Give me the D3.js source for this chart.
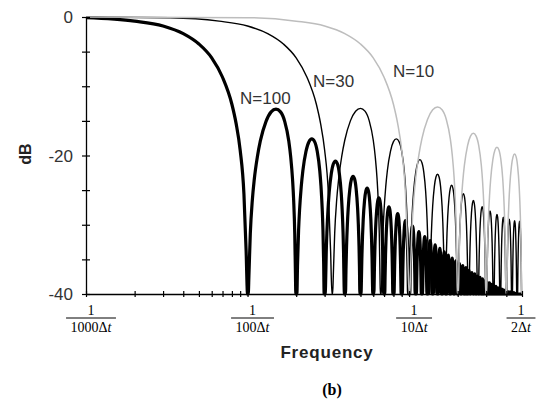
<!DOCTYPE html>
<html>
<head>
<meta charset="utf-8">
<script src="https://cdnjs.cloudflare.com/ajax/libs/d3/7.8.5/d3.min.js"></script>
<style>
body { margin: 0; background: #fff; }
svg { display: block; }
</style>
</head>
<body>
<script>
// frequency in units of 1/Δt, level in dB

// main lobes (pass band) down to the first null
var mainFreq100 = [0.001, 0.002, 0.003, 0.004, 0.005, 0.006, 0.007, 0.008, 0.0085, 0.009, 0.0095, 0.0098, 0.01];
var mainDb100   = [-0.1, -0.6, -1.3, -2.4, -3.9, -5.9, -8.7, -12.6, -15.4, -19.2, -25.6, -33.8, -40];

var mainFreq30 = [0.001, 0.00333, 0.00667, 0.01, 0.01333, 0.01667, 0.02, 0.02333, 0.02667, 0.02833, 0.03, 0.03167, 0.03267, 0.0333];
var mainDb30   = [0, -0.1, -0.6, -1.3, -2.4, -3.9, -5.9, -8.7, -12.6, -15.4, -19.2, -25.6, -33.8, -40];

var mainFreq10 = [0.001, 0.01, 0.02, 0.03, 0.04, 0.05, 0.06, 0.07, 0.08, 0.085, 0.09, 0.095, 0.098, 0.1];
var mainDb10   = [0, -0.1, -0.6, -1.3, -2.4, -3.9, -5.9, -8.7, -12.6, -15.4, -19.2, -25.6, -33.8, -40];

// nulls (curve drops below -40) and the top of each side lobe between them
var nulls100 = [0.01, 0.02, 0.03, 0.04, 0.05, 0.06, 0.07, 0.08, 0.09, 0.10,
                0.11, 0.12, 0.13, 0.14, 0.15, 0.16, 0.17, 0.18, 0.19, 0.20,
                0.21, 0.22, 0.23, 0.24, 0.25, 0.26, 0.27, 0.28, 0.29, 0.30,
                0.31, 0.32, 0.33, 0.34, 0.35, 0.36, 0.37, 0.38, 0.39, 0.40,
                0.41, 0.42, 0.43, 0.44, 0.45, 0.46, 0.47, 0.48, 0.49, 0.50];
var peaks100 = [-13.3, -17.6, -20.8, -23.0, -24.7, -26.1, -27.4, -28.4, -29.4, -30.2,
                -31.0, -31.7, -32.3, -32.9, -33.4, -33.9, -34.4, -34.8, -35.2, -35.6,
                -35.9, -36.2, -36.6, -36.9, -37.1, -37.4, -37.6, -37.8, -38.1, -38.3,
                -38.4, -38.6, -38.8, -38.9, -39.1, -39.2, -39.3, -39.4, -39.5, -39.6,
                -39.7, -39.7, -39.8, -39.8, -39.9, -39.9, -40, -40, -40];

var nulls30 = [0.0333, 0.0667, 0.1, 0.1333, 0.1667, 0.2, 0.2333, 0.2667, 0.3, 0.3333, 0.3667, 0.4, 0.4333, 0.4667, 0.5];
var peaks30 = [-13.2, -17.6, -20.6, -22.7, -24.3, -25.5, -26.5, -27.4, -28.0, -28.5, -28.9, -29.2, -29.4, -29.5];

var nulls10 = [0.1, 0.2, 0.3, 0.4, 0.5];
var peaks10 = [-13.0, -16.8, -18.8, -19.8];

// shape of one side lobe: dB below its top, across the lobe from null to null
var lobeT   = [0.01, 0.02, 0.04, 0.07, 0.1, 0.15, 0.2, 0.3, 0.4, 0.5, 0.6, 0.7, 0.8, 0.85, 0.9, 0.93, 0.96, 0.98, 0.99];
var lobeRel = [-30, -24, -18, -13.2, -10.2, -6.9, -4.6, -1.8, -0.4, 0, -0.4, -1.8, -4.6, -6.9, -10.2, -13.2, -18, -24, -30];

var curveNames = ["N=100", "N=30", "N=10"];
var tickDenoms = ["1000", "100", "10", "2"];
var tickFreqs = [0.001, 0.01, 0.1, 0.5];
var dbLabels = [0, -20, -40];

var width = 538, height = 405;

var x = d3.scaleLog().domain([0.001, 0.5]).range([86, 522]);
var y = d3.scaleLinear().domain([-40, 0]).range([294, 17]);

var svg = d3.select("body").append("svg")
    .attr("width", width)
    .attr("height", height);

function buildCurve(mainF, mainDb, nulls, peaks) {
    var pts = mainF.map(function(f, i) { return [f, mainDb[i]]; });
    for (var i = 0; i < peaks.length; i++) {
        var a = nulls[i], b = nulls[i + 1];
        lobeT.forEach(function(t, j) {
            pts.push([a + (b - a) * t, Math.max(-40, peaks[i] + lobeRel[j])]);
        });
        pts.push([b, -40]);
    }
    return pts;
}

var curves = [
    { pts: buildCurve(mainFreq100, mainDb100, nulls100, peaks100), color: "#000", w: 3.2 },
    { pts: buildCurve(mainFreq30, mainDb30, nulls30, peaks30), color: "#000", w: 1.4 },
    { pts: buildCurve(mainFreq10, mainDb10, nulls10, peaks10), color: "#bdbdbd", w: 1.5 }
];

var line = d3.line()
    .x(function(d) { return x(d[0]); })
    .y(function(d) { return y(d[1]); })
    .curve(d3.curveMonotoneX);

svg.selectAll("path.curve")
    .data(curves)
    .enter()
    .append("path")
    .attr("class", "curve")
    .attr("fill", "none")
    .attr("stroke", function(d) { return d.color; })
    .attr("stroke-width", function(d) { return d.w; })
    .attr("stroke-linejoin", "round")
    .attr("d", function(d) { return line(d.pts); });

// axes, ticks cross the axis line
var xAxis = svg.append("g")
    .attr("transform", "translate(0," + y(-40) + ")")
    .call(d3.axisBottom(x).tickValues(x.ticks()).tickSize(3).tickSizeOuter(0).tickFormat(""));
xAxis.selectAll(".tick line").attr("y1", -3).attr("y2", 3).attr("stroke-width", 1.2);
xAxis.select(".domain").attr("stroke-width", 1.3);

var yAxis = svg.append("g")
    .attr("transform", "translate(" + x(0.001) + ",0)")
    .call(d3.axisLeft(y).ticks(8).tickSize(4).tickSizeOuter(0).tickFormat(""));
yAxis.selectAll(".tick line").attr("x1", -4).attr("x2", 4).attr("stroke-width", 1.2);
yAxis.select(".domain").attr("stroke-width", 1.3);

svg.selectAll("text.db")
    .data(dbLabels)
    .enter()
    .append("text")
    .attr("class", "db")
    .attr("x", 73)
    .attr("y", function(d) { return y(d) + 6; })
    .attr("text-anchor", "end")
    .attr("font-family", "Liberation Sans, Arial, sans-serif")
    .attr("font-size", 17)
    .attr("fill", "#333")
    .text(function(d) { return d; });

svg.append("text")
    .attr("transform", "translate(31,154) rotate(-90)")
    .attr("text-anchor", "middle")
    .attr("font-family", "Liberation Sans, Arial, sans-serif")
    .attr("font-weight", "bold")
    .attr("font-size", 16)
    .attr("fill", "#222")
    .text("dB");

// fraction tick labels 1/(n Δt)
tickFreqs.forEach(function(f, i) {
    var cx = Math.min(x(f) + 5, 521);
    var g = svg.append("g").attr("transform", "translate(" + cx + ",0)");
    g.append("text")
        .attr("y", 315)
        .attr("text-anchor", "middle")
        .attr("font-family", "Liberation Serif, Times New Roman, serif")
        .attr("font-size", 14)
        .text("1");
    var den = g.append("text")
        .attr("y", 332)
        .attr("text-anchor", "middle")
        .attr("font-family", "Liberation Serif, Times New Roman, serif")
        .attr("font-size", 14);
    den.append("tspan").text(tickDenoms[i] + "Δ");
    den.append("tspan").attr("font-style", "italic").text("t");
    var w = den.node().getComputedTextLength() + 9;
    g.append("line")
        .attr("x1", -w / 2).attr("x2", w / 2)
        .attr("y1", 318).attr("y2", 318)
        .attr("stroke", "#000")
        .attr("stroke-width", 1);
});

svg.append("text")
    .attr("x", 327)
    .attr("y", 358)
    .attr("text-anchor", "middle")
    .attr("font-family", "Liberation Sans, Arial, sans-serif")
    .attr("font-weight", "bold")
    .attr("font-size", 17)
    .attr("letter-spacing", 0.8)
    .attr("fill", "#222")
    .text("Frequency");

svg.append("text")
    .attr("x", 332)
    .attr("y", 395)
    .attr("text-anchor", "middle")
    .attr("font-family", "Liberation Serif, Times New Roman, serif")
    .attr("font-weight", "bold")
    .attr("font-size", 16)
    .text("(b)");

// curve names
var namePos = [[0.00899, -12.6], [0.02545, -10.1], [0.0796, -8.7]];
svg.selectAll("text.name")
    .data(curveNames)
    .enter()
    .append("text")
    .attr("class", "name")
    .attr("x", function(d, i) { return x(namePos[i][0]); })
    .attr("y", function(d, i) { return y(namePos[i][1]); })
    .attr("font-family", "Liberation Sans, Arial, sans-serif")
    .attr("font-size", 17)
    .attr("fill", "#333")
    .text(function(d) { return d; });
</script>
</body>
</html>
